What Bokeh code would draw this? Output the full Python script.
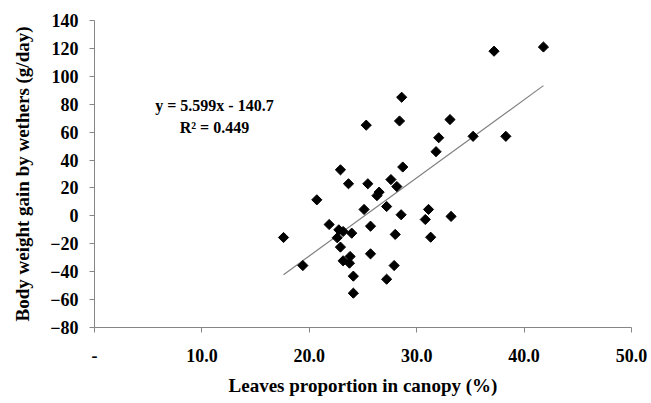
import numpy as np
from bokeh.plotting import figure
from bokeh.models import FixedTicker, Range1d
from bokeh.core.properties import value
from bokeh.embed import file_html
from bokeh.resources import INLINE

# Leaves proportion in canopy (%)
leaves = [37.2, 41.8, 28.6, 25.3, 28.4, 33.1, 32.05, 35.25, 38.3, 31.8,
          22.9, 28.7, 27.6, 23.65, 25.45, 28.15, 26.5, 26.3, 20.7, 25.1,
          27.2, 28.55, 31.1, 30.8, 33.2, 17.6, 21.85, 22.75, 23.15, 22.6,
          23.95, 25.7, 28.0, 31.3, 22.9, 25.7, 23.8, 23.15, 23.74, 19.4,
          27.9, 24.1, 27.2, 24.1]
# Body weight gain by wethers (g/day)
gain = [118, 121, 85, 65, 68, 69, 56, 57, 57, 46,
        33, 35, 26, 23, 23, 21, 17, 14.5, 11.5, 4.6,
        6.7, 0.8, 4.6, -2.6, -0.4, -15.5, -6.2, -10, -11.2, -15.7,
        -12.4, -7.4, -13.3, -15.3, -22.4, -27.2, -29.1, -32.2, -33.9, -35.6,
        -35.6, -43.2, -45.4, -55.4]

slope = 5.599
intercept = -140.7
eq_lines = ["y = 5.599x - 140.7", "R\u00b2 = 0.449"]

x_ticks = [0, 10, 20, 30, 40, 50]
x_tick_labels = ["-", "10.0", "20.0", "30.0", "40.0", "50.0"]
y_ticks = list(range(-80, 141, 20))

FONT = "Liberation Serif"

p = figure(width=651, height=403, output_backend="svg", toolbar_location=None,
           x_range=Range1d(0, 50), y_range=Range1d(-80, 140),
           min_border_left=94, min_border_right=20, min_border_top=20,
           min_border_bottom=76)
p.outline_line_color = None
p.grid.visible = False
p.background_fill_color = "white"
p.border_fill_color = "white"

for ax in (p.xaxis[0], p.yaxis[0]):
    ax.axis_line_color = "#868686"
    ax.major_tick_line_color = "#868686"
    ax.minor_tick_line_color = None
    ax.major_tick_in = 0
    ax.major_tick_out = 5
    ax.major_label_text_font = FONT
    ax.major_label_text_font_style = "bold"
    ax.major_label_text_font_size = "18px"
    ax.major_label_text_color = "black"
    ax.axis_label_text_font = FONT
    ax.axis_label_text_font_style = "bold"
    ax.axis_label_text_font_size = "19px"
    ax.axis_label_text_color = "black"

p.xaxis.ticker = FixedTicker(ticks=x_ticks)
p.xaxis.major_label_overrides = {t: l for t, l in zip(x_ticks, x_tick_labels)}
p.xaxis.axis_label = "Leaves proportion in canopy (%)"
p.xaxis.major_label_standoff = 16
p.xaxis.axis_label_standoff = 10

p.yaxis.ticker = FixedTicker(ticks=y_ticks)
p.yaxis.axis_label = "Body weight gain by wethers (g/day)"
p.yaxis.major_label_standoff = 11
p.yaxis.axis_label_standoff = 14

# trend line
x0, x1 = min(leaves), max(leaves)
p.line([x0, x1], [slope * x0 + intercept, slope * x1 + intercept],
       line_color="#808080", line_width=1.2)

# points
p.scatter(leaves, gain, marker="square", size=7.2, angle=np.pi / 4,
          fill_color="black", line_color="black")

# equation text
p.text(x=[11.17, 11.17], y=[79.1, 63.4], text=eq_lines,
       text_font=value(FONT), text_font_style="bold", text_font_size="16px",
       text_align="center", text_baseline="middle", text_color="black")

open("out.html", "w").write(file_html(p, INLINE))
